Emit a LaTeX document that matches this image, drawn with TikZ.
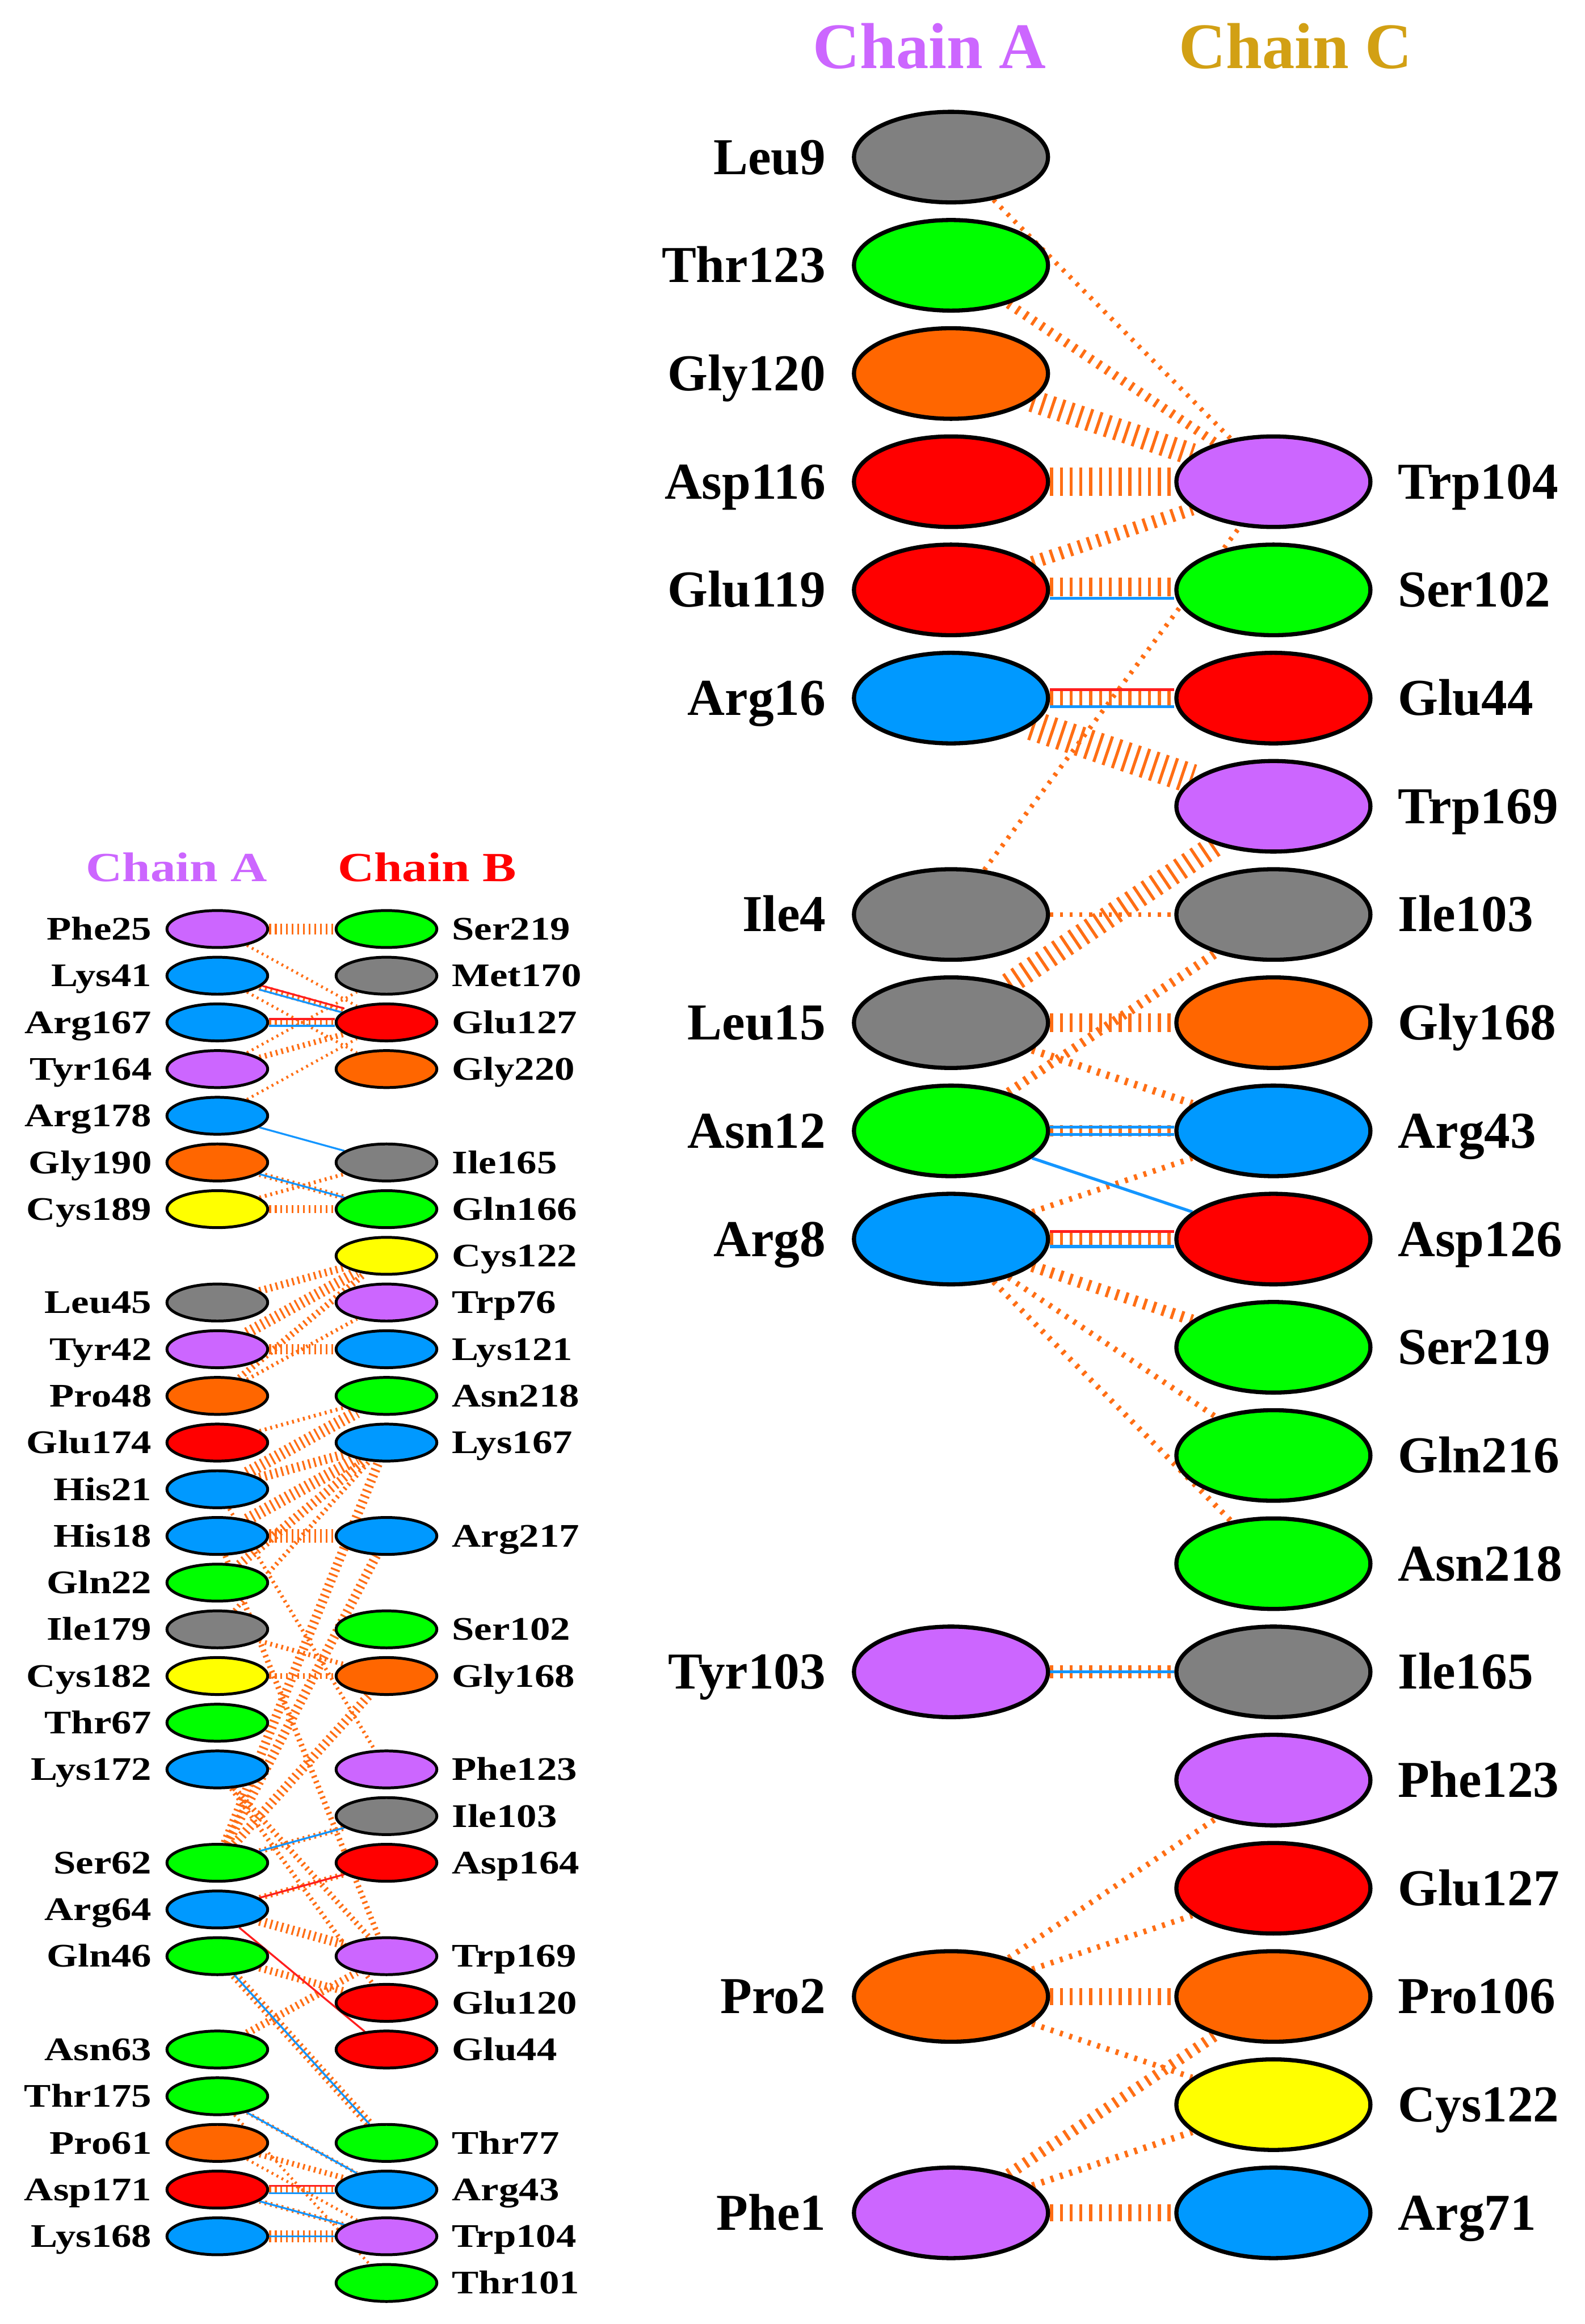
\documentclass[tikz,border=0pt]{standalone}
\usepackage{fontspec}
\setmainfont{Liberation Serif}
\newfontfamily\fuenteancha[FakeStretch=1.22]{Liberation Serif}
\usetikzlibrary{positioning, shapes.geometric}
\definecolor{gris}{RGB}{128,128,128}
\definecolor{verde}{RGB}{0,255,0}
\definecolor{naranja}{RGB}{255,102,0}
\definecolor{rojo}{RGB}{255,0,0}
\definecolor{violeta}{RGB}{204,102,255}
\definecolor{azul}{RGB}{0,153,255}
\definecolor{amarillo}{RGB}{255,255,0}
\definecolor{dorado}{RGB}{210,160,20}
\definecolor{lineanaranja}{RGB}{255,110,20}
\definecolor{lineaazul}{RGB}{20,150,255}
\definecolor{linearoja}{RGB}{255,30,30}
\pgfdeclarelayer{fondo}
\pgfsetlayers{fondo,main}

\begin{document}
\begin{tikzpicture}[
		x=0.2766mm, y=-0.2766mm,                 % unidades = pixeles de la figura
		resgrande/.style = {ellipse, draw=black, line width=2.2pt,
			minimum width=36.2mm, minimum height=16.9mm, inner sep=0pt},
		reschico/.style = {ellipse, draw=black, line width=1.5pt,
			minimum width=18.8mm, minimum height=6.9mm, inner sep=0pt},
		etiqgrande/.style = {inner sep=0pt, text height=18.2pt, text depth=0pt,
			font=\bfseries\fontsize{27.5}{30}\selectfont},
		etiqchica/.style = {inner sep=0pt, text height=11.6pt, text depth=0pt,
			font=\fuenteancha\bfseries\fontsize{17.5}{20}\selectfont},
		titulo/.style = {inner sep=0pt, text height=22.8pt, text depth=0pt,
			font=\bfseries\fontsize{34.5}{38}\selectfont},
		titulochico/.style = {inner sep=0pt, text height=14.5pt, text depth=0pt,
			font=\fuenteancha\bfseries\fontsize{22}{24}\selectfont},
		contacto/.style = {draw=lineanaranja, line width=#1, dash pattern=on 1.6pt off 3.6pt},
		contacto/.default = 3pt,
		contactochico/.style = {draw=lineanaranja, line width=#1, dash pattern=on 1pt off 2pt},
		contactochico/.default = 2pt,
		hbond/.style = {draw=lineaazul, line width=#1},
		hbond/.default = 1.6pt,
		salino/.style = {draw=linearoja, line width=#1},
		salino/.default = 1.6pt
		]
		
		\begin{pgfonlayer}{fondo}
			\fill[white] (0,0) rectangle (1069,1568);
		\end{pgfonlayer}
		\useasboundingbox (0,0) rectangle (1069,1568);
		
		% Titulos - panel derecho
		\node[titulo, text=violeta] (tituloA) at (627,31.8) {Chain A};
		\node[titulo, text=dorado] (tituloC) at (874,31.8) {Chain C};
		
		% Titulos - panel izquierdo
		\node[titulochico, text=violeta] (tituloizqA) at (119,585.3) {Chain A};
		\node[titulochico, text=rojo] (tituloizqB) at (288,585.3) {Chain B};
		
		% Panel derecho - cadena A
		\foreach \res/\fila/\col in {Leu9/0/gris, Thr123/1/verde, Gly120/2/naranja,
			Asp116/3/rojo, Glu119/4/rojo, Arg16/5/azul, Ile4/7/gris, Leu15/8/gris,
			Asn12/9/verde, Arg8/10/azul, Tyr103/14/violeta, Pro2/17/naranja, Phe1/19/violeta}{
			\node[resgrande, fill=\col] (ra\res) at (641.5,106+73*\fila) {};
			\node[etiqgrande, left=4.8mm of ra\res] (ra\res-t) {\res};
		}
		
		% Panel derecho - cadena C
		\foreach \res/\fila/\col in {Trp104/3/violeta, Ser102/4/verde, Glu44/5/rojo,
			Trp169/6/violeta, Ile103/7/gris, Gly168/8/naranja, Arg43/9/azul,
			Asp126/10/rojo, Ser219/11/verde, Gln216/12/verde, Asn218/13/verde,
			Ile165/14/gris, Phe123/15/violeta, Glu127/16/rojo, Pro106/17/naranja,
			Cys122/18/amarillo, Arg71/19/azul}{
			\node[resgrande, fill=\col] (rc\res) at (859,106+73*\fila) {};
			\node[etiqgrande, right=4.7mm of rc\res] (rc\res-t) {\res};
		}
		
		% Panel izquierdo - cadena A
		\foreach \res/\fila/\col in {Phe25/0/violeta, Lys41/1/azul, Arg167/2/azul,
			Tyr164/3/violeta, Arg178/4/azul, Gly190/5/naranja, Cys189/6/amarillo,
			Leu45/8/gris, Tyr42/9/violeta, Pro48/10/naranja, Glu174/11/rojo,
			His21/12/azul, His18/13/azul, Gln22/14/verde, Ile179/15/gris,
			Cys182/16/amarillo, Thr67/17/verde, Lys172/18/azul, Ser62/20/verde,
			Arg64/21/azul, Gln46/22/verde, Asn63/24/verde, Thr175/25/verde,
			Pro61/26/naranja, Asp171/27/rojo, Lys168/28/azul}{
			\node[reschico, fill=\col] (la\res) at (146.6,626.8+31.5*\fila) {};
			\node[etiqchica, left=2.5mm of la\res] (la\res-t) {\res};
		}
		
		% Panel izquierdo - cadena B
		\foreach \res/\fila/\col in {Ser219/0/verde, Met170/1/gris, Glu127/2/rojo,
			Gly220/3/naranja, Ile165/5/gris, Gln166/6/verde, Cys122/7/amarillo,
			Trp76/8/violeta, Lys121/9/azul, Asn218/10/verde, Lys167/11/azul,
			Arg217/13/azul, Ser102/15/verde, Gly168/16/naranja, Phe123/18/violeta,
			Ile103/19/gris, Asp164/20/rojo, Trp169/22/violeta, Glu120/23/rojo,
			Glu44/24/rojo, Thr77/26/verde, Arg43/27/azul, Trp104/28/violeta,
			Thr101/29/verde}{
			\node[reschico, fill=\col] (lb\res) at (260.7,626.8+31.5*\fila) {};
			\node[etiqchica, right=2.5mm of lb\res] (lb\res-t) {\res};
		}
		
		\begin{pgfonlayer}{fondo}
			% Contactos no enlazantes - panel derecho
			\foreach \a/\b/\w in {Leu9/Trp104/2.5pt, Thr123/Trp104/5pt, Gly120/Trp104/12pt,
				Asp116/Trp104/15pt, Glu119/Trp104/7pt, Ile4/Trp104/2.5pt, Arg16/Glu44/8pt,
				Arg16/Trp169/16pt, Leu15/Trp169/12pt, Ile4/Ile103/2.5pt, Asn12/Ile103/5pt,
				Leu15/Gly168/10pt, Leu15/Arg43/4pt, Asn12/Arg43/6pt, Arg8/Arg43/3pt,
				Arg8/Asp126/7pt, Arg8/Ser219/6pt, Arg8/Gln216/3pt, Arg8/Asn218/3pt,
				Tyr103/Ile165/7pt, Pro2/Phe123/3pt, Pro2/Glu127/3pt, Pro2/Pro106/9pt,
				Pro2/Cys122/3pt, Phe1/Pro106/6pt, Phe1/Cys122/3.5pt, Phe1/Arg71/9pt}
			\draw[contacto=\w] (ra\a) -- (rc\b);
			\draw[contacto=10pt, transform canvas={yshift=1.5pt}] (raGlu119) -- (rcSer102);
			
			% Puentes de hidrogeno y salinos - panel derecho
			\draw[hbond, transform canvas={yshift=-4.5pt}] (raGlu119) -- (rcSer102);
			\draw[salino, transform canvas={yshift=4.5pt}] (raArg16) -- (rcGlu44);
			\draw[hbond, transform canvas={yshift=-4.5pt}] (raArg16) -- (rcGlu44);
			\draw[hbond, transform canvas={yshift=2pt}] (raAsn12) -- (rcArg43);
			\draw[hbond, transform canvas={yshift=-2pt}] (raAsn12) -- (rcArg43);
			\draw[hbond] (raAsn12) -- (rcAsp126);
			\draw[salino, transform canvas={yshift=4pt}] (raArg8) -- (rcAsp126);
			\draw[hbond, transform canvas={yshift=-4pt}] (raArg8) -- (rcAsp126);
			\draw[hbond] (raTyr103) -- (rcIle165);
			
			% Contactos no enlazantes - panel izquierdo
			\foreach \a/\b/\w in {Phe25/Ser219/5.5pt, Phe25/Glu127/1.5pt, Lys41/Glu127/3.5pt,
				Lys41/Gly220/1.5pt, Arg167/Glu127/4.5pt, Tyr164/Glu127/3pt,
				Tyr164/Met170/1.5pt, Arg178/Glu127/1.5pt, Gly190/Gln166/3pt,
				Cys189/Ile165/2pt, Cys189/Gln166/4pt, Leu45/Cys122/4pt, Tyr42/Cys122/6pt,
				Pro48/Cys122/3.5pt, Tyr42/Lys121/5.5pt, Pro48/Trp76/2pt, Glu174/Asn218/2pt,
				His21/Asn218/6.5pt, His21/Lys167/5pt, His18/Lys167/6.5pt, Gln22/Lys167/5pt,
				His18/Arg217/7pt, Ser62/Lys167/5pt, Ser62/Arg217/5pt, Ser62/Gly168/5pt,
				Ile179/Lys167/2.5pt, Ile179/Gly168/2.5pt, Cys182/Gly168/3pt, His21/Phe123/2pt,
				His18/Trp169/3pt, Lys172/Trp169/3pt, Lys172/Glu120/2.5pt,
				Ser62/Ile103/3pt, Arg64/Asp164/3pt, Arg64/Trp169/5pt,
				Gln46/Glu120/4pt, Gln46/Thr77/5pt, Asn63/Trp169/4pt, Thr175/Arg43/2pt,
				Thr175/Thr101/1.5pt, Pro61/Arg43/3pt, Pro61/Trp104/1.5pt,
				Asp171/Arg43/4pt, Asp171/Trp104/2.5pt, Lys168/Trp104/6.5pt}
			\draw[contactochico=\w] (la\a) -- (lb\b);
			
			% Puentes de hidrogeno y salinos - panel izquierdo
			\draw[salino=1pt, transform canvas={yshift=1.2pt}] (laLys41) -- (lbGlu127);
			\draw[hbond=1pt, transform canvas={yshift=-1.2pt}] (laLys41) -- (lbGlu127);
			\draw[salino=1pt, transform canvas={yshift=1.8pt}] (laArg167) -- (lbGlu127);
			\draw[hbond=1pt, transform canvas={yshift=-1.8pt}] (laArg167) -- (lbGlu127);
			\draw[hbond=1pt] (laArg178) -- (lbIle165);
			\draw[hbond=1pt] (laGly190) -- (lbGln166);
			\draw[hbond=1pt] (laSer62) -- (lbIle103);
			\draw[salino=1pt] (laArg64) -- (lbAsp164);
			\draw[salino=1pt] (laArg64) -- (lbGlu44);
			\draw[hbond=1pt] (laGln46) -- (lbThr77);
			\draw[hbond=1pt] (laThr175) -- (lbArg43);
			\draw[salino=1pt, transform canvas={yshift=2pt}] (laAsp171) -- (lbArg43);
			\draw[hbond=1pt, transform canvas={yshift=-2pt}] (laAsp171) -- (lbArg43);
			\draw[hbond=1pt] (laAsp171) -- (lbTrp104);
			\draw[hbond=1pt] (laLys168) -- (lbTrp104);
		\end{pgfonlayer}
		
	\end{tikzpicture}
\end{document}
